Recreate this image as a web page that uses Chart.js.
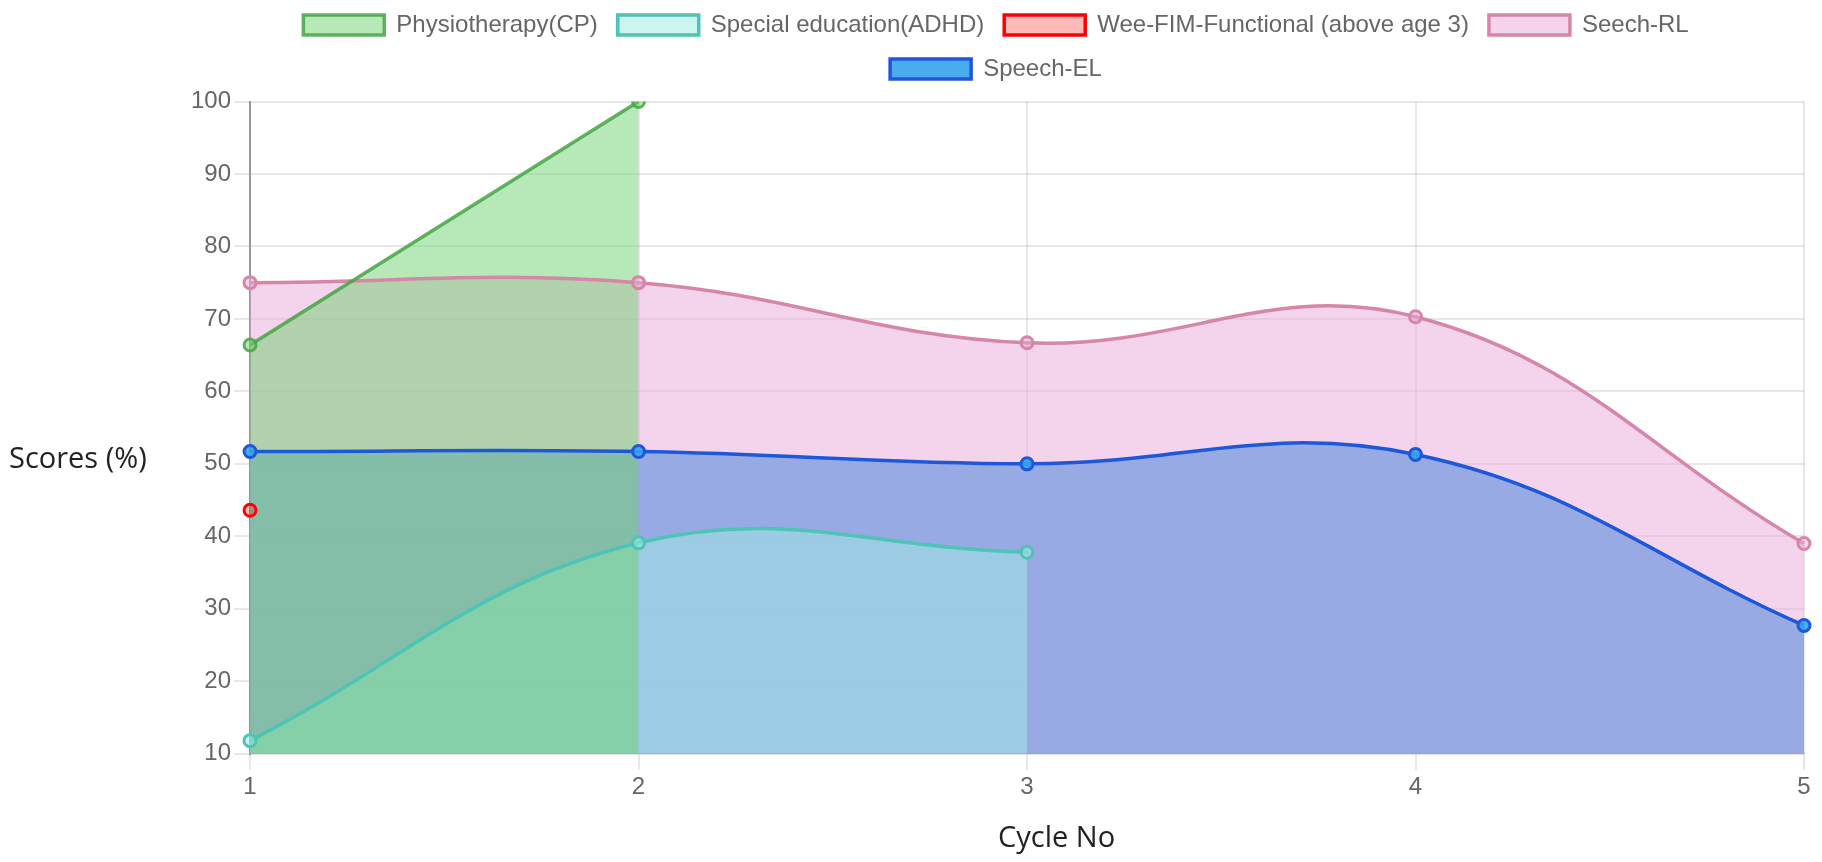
<!DOCTYPE html>
<html><head><meta charset="utf-8">
<script src="https://cdn.jsdelivr.net/npm/chart.js@4.4.0/dist/chart.umd.min.js"></script>
<style>html,body{margin:0;padding:0;background:#fff;overflow:hidden}#wrap{width:1822px;height:862px;position:relative}</style>
</head><body><div id="wrap"><canvas id="c"></canvas></div>
<script>
const cycles = ['1', '2', '3', '4', '5'];
const physiotherapy = [66.4, 100, null, null, null];
const specialEducation = [11.8, 39.1, 37.8, null, null];
const weeFim = [43.6, null, null, null, null];
const speechRL = [75, 75, 66.7, 70.3, 39.0];
const speechEL = [51.7, 51.7, 50.0, 51.3, 27.7];
const seriesNames = ['Physiotherapy(CP)', 'Special education(ADHD)', 'Wee-FIM-Functional (above age 3)', 'Seech-RL', 'Speech-EL'];
const yMin = 10, yMax = 100, yStep = 10;
const xTitle = 'Cycle No', yTitle = 'Scores (%)';

const styles = [
  {bg: 'rgba(111,209,111,0.5)', border: 'rgba(70,165,70,0.85)'},
  {bg: 'rgba(157,236,226,0.52)', border: 'rgb(78,196,182)'},
  {bg: 'rgba(255,0,0,0.27)', border: 'rgb(255,0,0)'},
  {bg: 'rgba(231,169,217,0.5)', border: 'rgb(214,134,166)'},
  {bg: 'rgba(54,162,235,0.9)', border: 'rgb(30,88,218)'}
];
const values = [physiotherapy, specialEducation, weeFim, speechRL, speechEL];

const datasets = values.map((v, i) => ({
  label: seriesNames[i],
  data: v,
  backgroundColor: styles[i].bg,
  borderColor: styles[i].border,
  pointBackgroundColor: styles[i].bg,
  pointBorderColor: styles[i].border,
  borderWidth: 3.5,
  pointRadius: 6,
  pointBorderWidth: 3,
  tension: 0.4,
  fill: 'start'
}));

const axisTitles = {
  id: 'axisTitles',
  afterInit(chart) {
    const lg = chart.legend;
    if (lg) {
      const orig = lg.fit;
      lg.fit = function () { orig.call(this); this.height += 10.5; };
    }
  },
  afterDraw(chart) {
    const {ctx, chartArea: a} = chart;
    ctx.save();
    ctx.fillStyle = '#222';
    ctx.textBaseline = 'middle';
    ctx.textAlign = 'left';
    ctx.font = '29px "Open Sans"';
    ctx.fillText(yTitle, 9, a.top + (a.bottom - a.top) * 0.549);
    ctx.textAlign = 'center';
    ctx.fillText(xTitle, a.left + (a.right - a.left) * 0.519, 839);
    ctx.restore();
  }
};

Chart.defaults.font.family = '"Liberation Sans", Arial, Helvetica, sans-serif';
Chart.defaults.font.size = 24;
Chart.defaults.color = '#666';

new Chart(document.getElementById('c'), {
  type: 'line',
  data: {labels: cycles, datasets},
  plugins: [axisTitles],
  options: {
    responsive: true,
    maintainAspectRatio: false,
    animation: false,
    layout: {padding: {left: 188, right: 18, top: -7, bottom: 57.5}},
    plugins: {
      filler: {drawTime: 'beforeDatasetsDraw'},
      legend: {
        position: 'top',
        labels: {boxWidth: 81, boxHeight: 20, padding: 20, color: '#666', font: {size: 24}}
      },
      tooltip: {enabled: false}
    },
    scales: {
      x: {
        grid: {color: 'rgba(0,0,0,0.09)', lineWidth: 2, tickLength: 16},
        border: {color: 'rgba(0,0,0,0.3)'},
        ticks: {color: '#666', padding: 3}
      },
      y: {
        min: yMin, max: yMax,
        ticks: {stepSize: yStep, color: '#666', padding: 3},
        grid: {color: 'rgba(0,0,0,0.09)', lineWidth: 2, tickLength: 16},
        border: {color: 'rgba(0,0,0,0.35)', width: 2}
      }
    }
  }
});
</script></body></html>
